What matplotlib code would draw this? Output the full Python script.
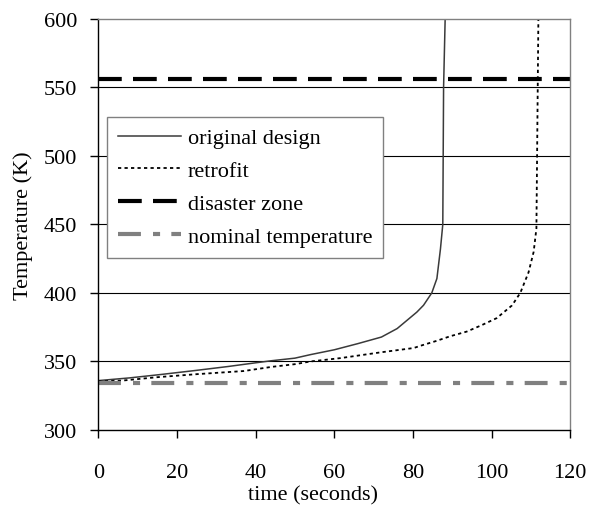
import numpy as np
import matplotlib
matplotlib.use('Agg')
import matplotlib.pyplot as plt

plt.rcParams['font.family'] = ['Liberation Serif', 'DejaVu Serif']

# Temperature history of the original design (seconds, K)
original_t = [0, 8, 16, 25, 33, 40, 44, 50, 54, 60, 66, 72, 76, 78.5, 81, 82.7, 84.8, 86.1, 87.0, 87.6, 87.8, 88.2]
original_T = [336, 338, 340.5, 343.5, 346.3, 349, 350.5, 352.4, 355, 358.5, 363, 367.8, 374, 380, 386, 391, 400, 410.5, 432, 450, 550, 600]

# Temperature history of the retrofit
retrofit_t = [0, 6, 15, 25, 37, 44, 50, 54, 61.5, 71.7, 80.2, 82, 86, 89.5, 93.7, 97.5, 101.3, 105.2, 107.3, 109.4, 110.7, 111.4, 111.9]
retrofit_T = [335.5, 336, 338.5, 340.7, 343, 346, 348, 350, 352.4, 356.6, 359.8, 361.5, 365, 368.4, 371.8, 376.5, 381.6, 390.9, 400, 415, 430, 447, 600]

disaster_T = 556
nominal_T = 334.6

fig = plt.figure(figsize=(5.9, 5.1), dpi=100)
ax = fig.add_axes([0.1665, 0.155, 0.8, 0.806])

ax.plot(original_t, original_T, color='#3a3a3a', lw=1.1, label='original design')
ax.plot(retrofit_t, retrofit_T, color='black', lw=1.3, linestyle=(0, (1.8, 1.8)), label='retrofit')
ax.axhline(disaster_T, color='black', lw=3, linestyle=(0, (5.7, 2.7)), label='disaster zone')
ax.axhline(nominal_T, color='#808080', lw=3, linestyle=(0, (5.5, 2.9, 1.7, 2.7)), label='nominal temperature')

ax.set_xlim(0, 120)
ax.set_ylim(300, 600)
ax.set_xticks(np.arange(0, 121, 20))
ax.set_yticks(np.arange(300, 601, 50))

# horizontal grid lines
for yv in range(350, 600, 50):
    ax.axhline(yv, color='black', lw=0.8, zorder=0)

ax.spines['top'].set_color('#808080')
ax.spines['right'].set_color('#808080')
ax.spines['left'].set_color('black')
ax.spines['bottom'].set_color('black')
for s in ax.spines.values():
    s.set_linewidth(1.0)

ax.tick_params(axis='y', direction='out', length=6, width=1, pad=9, labelsize=16)
ax.tick_params(axis='x', direction='out', length=6, width=1, pad=18, labelsize=16)

ax.set_xlabel('time (seconds)', fontsize=16)
ax.xaxis.set_label_coords(0.456, -0.135)
ax.set_ylabel('Temperature (K)', fontsize=16, labelpad=8)

leg = ax.legend(loc='upper left', bbox_to_anchor=(0.018, 0.762), borderaxespad=0,
                fontsize=16, handlelength=2.85, labelspacing=0.55, fancybox=False,
                framealpha=1, edgecolor='#808080', handletextpad=0.3, borderpad=0.5)
leg.get_frame().set_linewidth(1.0)

fig.savefig('out.png', dpi=100)
